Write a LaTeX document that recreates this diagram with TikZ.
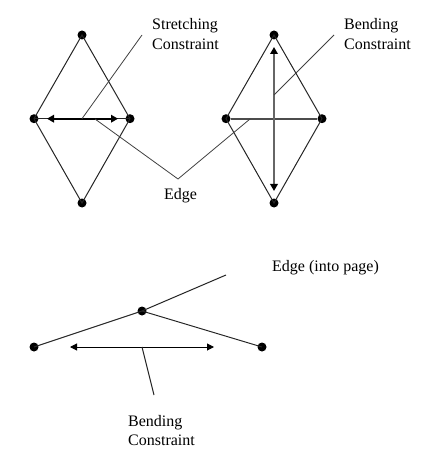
\documentclass[tikz,border=0pt]{standalone}
\usepackage{fontspec}
\setmainfont{Liberation Serif}
\usetikzlibrary{arrows.meta}
\tikzset{
  dot/.style={circle,fill=black,inner sep=0pt,minimum size=9pt},
  edgeline/.style={line width=1pt,draw=black!85},
  leader/.style={line width=0.8pt,draw=black!75},
  spanline/.style={line width=2pt,draw=black!70},
  stretcharrow/.style={line width=2pt,draw=black,{Triangle[length=7pt,width=7.5pt]}-{Triangle[length=7pt,width=7.5pt]}},
  bendarrow/.style={line width=2pt,draw=black!60,{Triangle[length=7pt,width=7.5pt,color=black]}-{Triangle[length=7pt,width=7.5pt,color=black]}},
  thinarrow/.style={line width=1pt,draw=black,{Triangle[length=7pt,width=7pt]}-{Triangle[length=7pt,width=7pt]}},
  lbl/.style={anchor=base west,inner sep=0pt,font=\fontsize{16}{16}\selectfont}
}
\begin{document}
\begin{tikzpicture}[x=1pt,y=-1pt]
\useasboundingbox (0,0) rectangle (420,462);
% left diamond
\node[dot] (lt) at (82,35) {};
\node[dot] (ll) at (34,118.7) {};
\node[dot] (lr) at (130,118.7) {};
\node[dot] (lb) at (82,203) {};
% right diamond
\node[dot] (rt) at (274,35) {};
\node[dot] (rl) at (226,118.7) {};
\node[dot] (rr) at (322,118.7) {};
\node[dot] (rb) at (274,203) {};
% bottom figure
\node[dot] (bc) at (142,311) {};
\node[dot] (bl) at (34,347) {};
\node[dot] (br) at (262,347) {};
% free ends
\coordinate (sa) at (47,118.7);
\coordinate (sb) at (118,118.7);
\coordinate (sm) at (82,118.7);
\coordinate (se) at (142,35);
\coordinate (ea) at (95,119);
\coordinate (ev) at (178,179);
\coordinate (eb) at (250,119);
\coordinate (va) at (274,47);
\coordinate (vb) at (274,191);
\coordinate (vm) at (274,95);
\coordinate (ve) at (334,35);
\coordinate (be) at (226,275);
\coordinate (ha) at (70,347);
\coordinate (hb) at (214,347);
\coordinate (hm) at (142,347);
\coordinate (he) at (154,395);
% edges
\draw[edgeline] (lt.center) -- (ll.center) -- (lb.center) -- (lr.center) -- cycle;
\draw[edgeline] (rt.center) -- (rl.center) -- (rb.center) -- (rr.center) -- cycle;
\draw[edgeline] (ll.center) -- (lr.center);
\draw[edgeline] (bl.center) -- (bc.center) -- (br.center);
\draw[edgeline] (bc.center) -- (be);
% constraints
\draw[stretcharrow] (sa) -- (sb);
\draw[spanline] (rl) -- (rr);
\draw[bendarrow] (va) -- (vb);
\draw[thinarrow] (ha) -- (hb);
% leaders
\draw[leader] (sm) -- (se);
\draw[leader] (ea) -- (ev) -- (eb);
\draw[leader] (vm) -- (ve);
\draw[edgeline] (hm) -- (he);
% labels
\node[lbl] (t1) at (152,30) {Stretching};
\node[lbl] (t2) at (152,50) {Constraint};
\node[lbl] (t3) at (344,30) {Bending};
\node[lbl] (t4) at (344,49.5) {Constraint};
\node[lbl] (t5) at (164,199) {Edge};
\node[lbl] (t6) at (272,271) {Edge (into page)};
\node[lbl] (t7) at (128,426) {Bending};
\node[lbl] (t8) at (128,445) {Constraint};
\end{tikzpicture}
\end{document}
